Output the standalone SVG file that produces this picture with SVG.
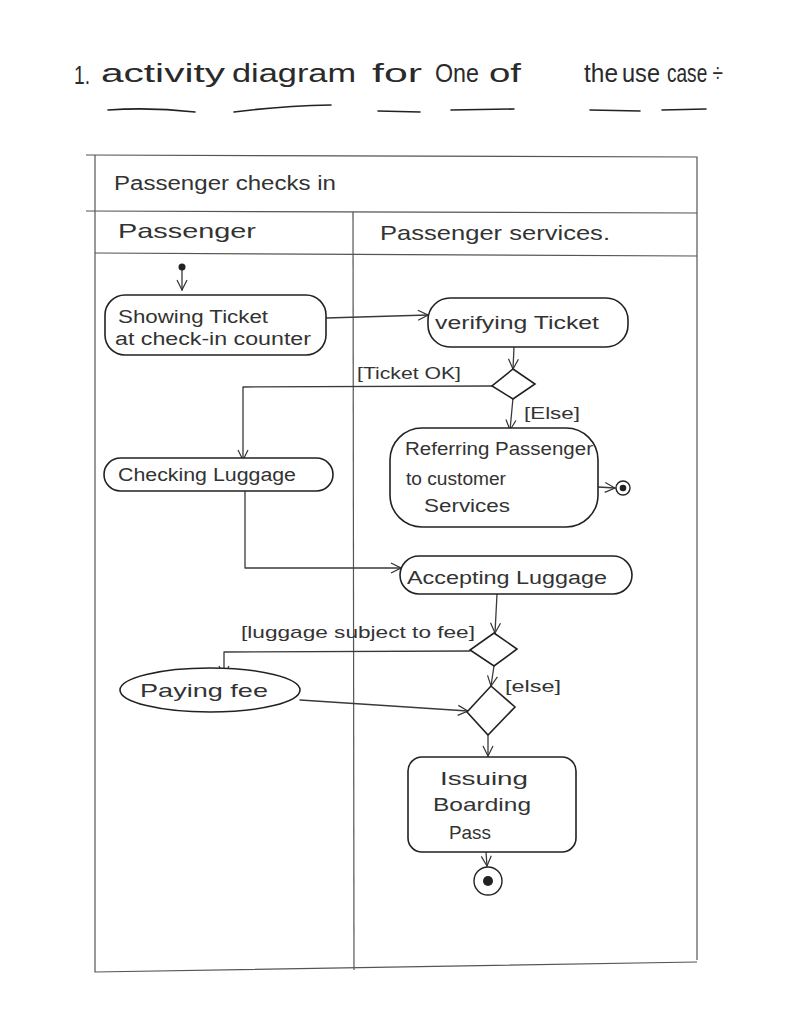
<svg xmlns="http://www.w3.org/2000/svg" width="791" height="1024" viewBox="0 0 791 1024">
<defs>
<marker id="arr" viewBox="0 0 12 12" refX="11" refY="6" markerWidth="12" markerHeight="12" markerUnits="userSpaceOnUse" orient="auto">
<path d="M1,1 L11,6 L1,11" fill="none" stroke="#333" stroke-width="1.2"/>
</marker>
<style>
.ln{fill:none;stroke:#3a3a3a;stroke-width:1.3;stroke-linecap:round;stroke-linejoin:round}
.fr{fill:none;stroke:#555;stroke-width:1.2}
.nd{fill:#fff;stroke:#222;stroke-width:1.6}
.t{font-family:"Liberation Sans",Arial,sans-serif;fill:#333}
.tt{font-family:"Liberation Sans",Arial,sans-serif;fill:#2a2a2a;font-size:25px}
.ul{fill:none;stroke:#222;stroke-width:1.6;stroke-linecap:round}
</style>
</defs>
<rect width="791" height="1024" fill="#fff"/>
<g id="title">
<text class="tt" x="74" y="84" textLength="16" lengthAdjust="spacingAndGlyphs">1.</text>
<text class="tt" x="101" y="82" textLength="124" lengthAdjust="spacingAndGlyphs">activity</text>
<text class="tt" x="232" y="82" textLength="124" lengthAdjust="spacingAndGlyphs">diagram</text>
<text class="tt" x="372" y="82" textLength="50" lengthAdjust="spacingAndGlyphs">for</text>
<text class="tt" x="435" y="82" textLength="44" lengthAdjust="spacingAndGlyphs">One</text>
<text class="tt" x="489" y="82" textLength="32" lengthAdjust="spacingAndGlyphs">of</text>
<text class="tt" x="584" y="82" textLength="34" lengthAdjust="spacingAndGlyphs">the</text>
<text class="tt" x="622" y="82" textLength="38" lengthAdjust="spacingAndGlyphs">use</text>
<text class="tt" x="667" y="82" font-size="22" textLength="56" lengthAdjust="spacingAndGlyphs">case ÷</text>
<path class="ul" d="M108,110 Q150,107 195,112"/>
<path class="ul" d="M234,112 Q280,106 331,105"/>
<path class="ul" d="M378,111 L420,112"/>
<path class="ul" d="M451,110 L514,109"/>
<path class="ul" d="M590,110 L640,111"/>
<path class="ul" d="M662,110 L706,109"/>
</g>
<g id="frame">
<path class="fr" d="M86,155 L697,157 L697,960"/>
<path class="fr" d="M95,155 L95,972 L697,962"/>
<path class="fr" d="M86,211 L697,213"/>
<path class="fr" d="M95,253 L697,256"/>
<path class="fr" d="M353,212 L354,970"/>
<text class="t" x="114" y="190" font-size="20" textLength="222" lengthAdjust="spacingAndGlyphs">Passenger checks in</text>
<text class="t" x="118" y="238" font-size="21" textLength="138" lengthAdjust="spacingAndGlyphs">Passenger</text>
<text class="t" x="380" y="240" font-size="21" textLength="230" lengthAdjust="spacingAndGlyphs">Passenger services.</text>
</g>
<g id="connectors">
<path class="ln" d="M182,270 L182,290" marker-end="url(#arr)"/>
<path class="ln" d="M326,318 L428,315" marker-end="url(#arr)"/>
<path class="ln" d="M514,347 L513,369" marker-end="url(#arr)"/>
<path class="ln" d="M492,386 L243,387 L243,460" marker-end="url(#arr)"/>
<path class="ln" d="M513,398 L510,430" marker-end="url(#arr)"/>
<path class="ln" d="M598,487 L615,488" marker-end="url(#arr)"/>
<path class="ln" d="M245,490 L245,568 L401,568" marker-end="url(#arr)"/>
<path class="ln" d="M497,594 L495,633" marker-end="url(#arr)"/>
<path class="ln" d="M470,651 L224,652 L224,676" marker-end="url(#arr)"/>
<path class="ln" d="M494,666 L491,686" marker-end="url(#arr)"/>
<path class="ln" d="M300,700 L468,711" marker-end="url(#arr)"/>
<path class="ln" d="M488,736 L488,756" marker-end="url(#arr)"/>
<path class="ln" d="M486,852 L487,866" marker-end="url(#arr)"/>
<text class="t" x="357" y="379" font-size="16" textLength="104" lengthAdjust="spacingAndGlyphs">[Ticket OK]</text>
<text class="t" x="524" y="419" font-size="17" textLength="56" lengthAdjust="spacingAndGlyphs">[Else]</text>
<text class="t" x="241" y="638" font-size="17" textLength="234" lengthAdjust="spacingAndGlyphs">[luggage subject to fee]</text>
<text class="t" x="505" y="692" font-size="17" textLength="56" lengthAdjust="spacingAndGlyphs">[else]</text>
</g>
<g id="start">
<circle cx="182" cy="267" r="3.5" fill="#222"/>
</g>
<g id="showing-ticket">
<rect class="nd" x="105" y="295" width="221" height="60" rx="20"/>
<text class="t" x="118" y="323" font-size="18" textLength="150" lengthAdjust="spacingAndGlyphs">Showing Ticket</text>
<text class="t" x="115" y="345" font-size="18" textLength="196" lengthAdjust="spacingAndGlyphs">at check-in counter</text>
</g>
<g id="verifying-ticket">
<rect class="nd" x="428" y="298" width="200" height="49" rx="22"/>
<text class="t" x="435" y="329" font-size="18" textLength="164" lengthAdjust="spacingAndGlyphs">verifying Ticket</text>
</g>
<g id="decision-ticket">
<path class="nd" d="M513,369 L535,384 L513,399 L492,386 Z"/>
</g>
<g id="referring">
<rect class="nd" x="390" y="428" width="208" height="99" rx="32"/>
<text class="t" x="405" y="455" font-size="18" textLength="188" lengthAdjust="spacingAndGlyphs">Referring Passenger</text>
<text class="t" x="406" y="485" font-size="18" textLength="100" lengthAdjust="spacingAndGlyphs">to customer</text>
<text class="t" x="424" y="512" font-size="18" textLength="86" lengthAdjust="spacingAndGlyphs">Services</text>
</g>
<g id="final-referring">
<circle cx="623" cy="488" r="7" fill="#fff" stroke="#222" stroke-width="1.4"/>
<circle cx="623" cy="488" r="3.3" fill="#222"/>
</g>
<g id="checking-luggage">
<rect class="nd" x="104" y="458" width="229" height="33" rx="16.5"/>
<text class="t" x="118" y="481" font-size="18" textLength="178" lengthAdjust="spacingAndGlyphs">Checking Luggage</text>
</g>
<g id="accepting-luggage">
<rect class="nd" x="400" y="556" width="232" height="38" rx="19"/>
<text class="t" x="407" y="584" font-size="18" textLength="200" lengthAdjust="spacingAndGlyphs">Accepting Luggage</text>
</g>
<g id="decision-fee">
<path class="nd" d="M494,633 L517,649 L494,666 L470,650 Z"/>
</g>
<g id="paying-fee">
<ellipse class="nd" cx="210" cy="690" rx="90" ry="22"/>
<text class="t" x="140" y="697" font-size="19" textLength="128" lengthAdjust="spacingAndGlyphs">Paying fee</text>
</g>
<g id="merge">
<path class="nd" d="M491,686 L515,707 L488,735 L467,712 Z"/>
</g>
<g id="issuing-pass">
<rect class="nd" x="408" y="757" width="168" height="95" rx="14"/>
<text class="t" x="440" y="785" font-size="19" textLength="88" lengthAdjust="spacingAndGlyphs">Issuing</text>
<text class="t" x="433" y="811" font-size="19" textLength="98" lengthAdjust="spacingAndGlyphs">Boarding</text>
<text class="t" x="449" y="839" font-size="19" textLength="42" lengthAdjust="spacingAndGlyphs">Pass</text>
</g>
<g id="final">
<circle cx="488" cy="881" r="14" fill="#fff" stroke="#222" stroke-width="1.4"/>
<circle cx="488" cy="881" r="5" fill="#222"/>
</g>
</svg>
